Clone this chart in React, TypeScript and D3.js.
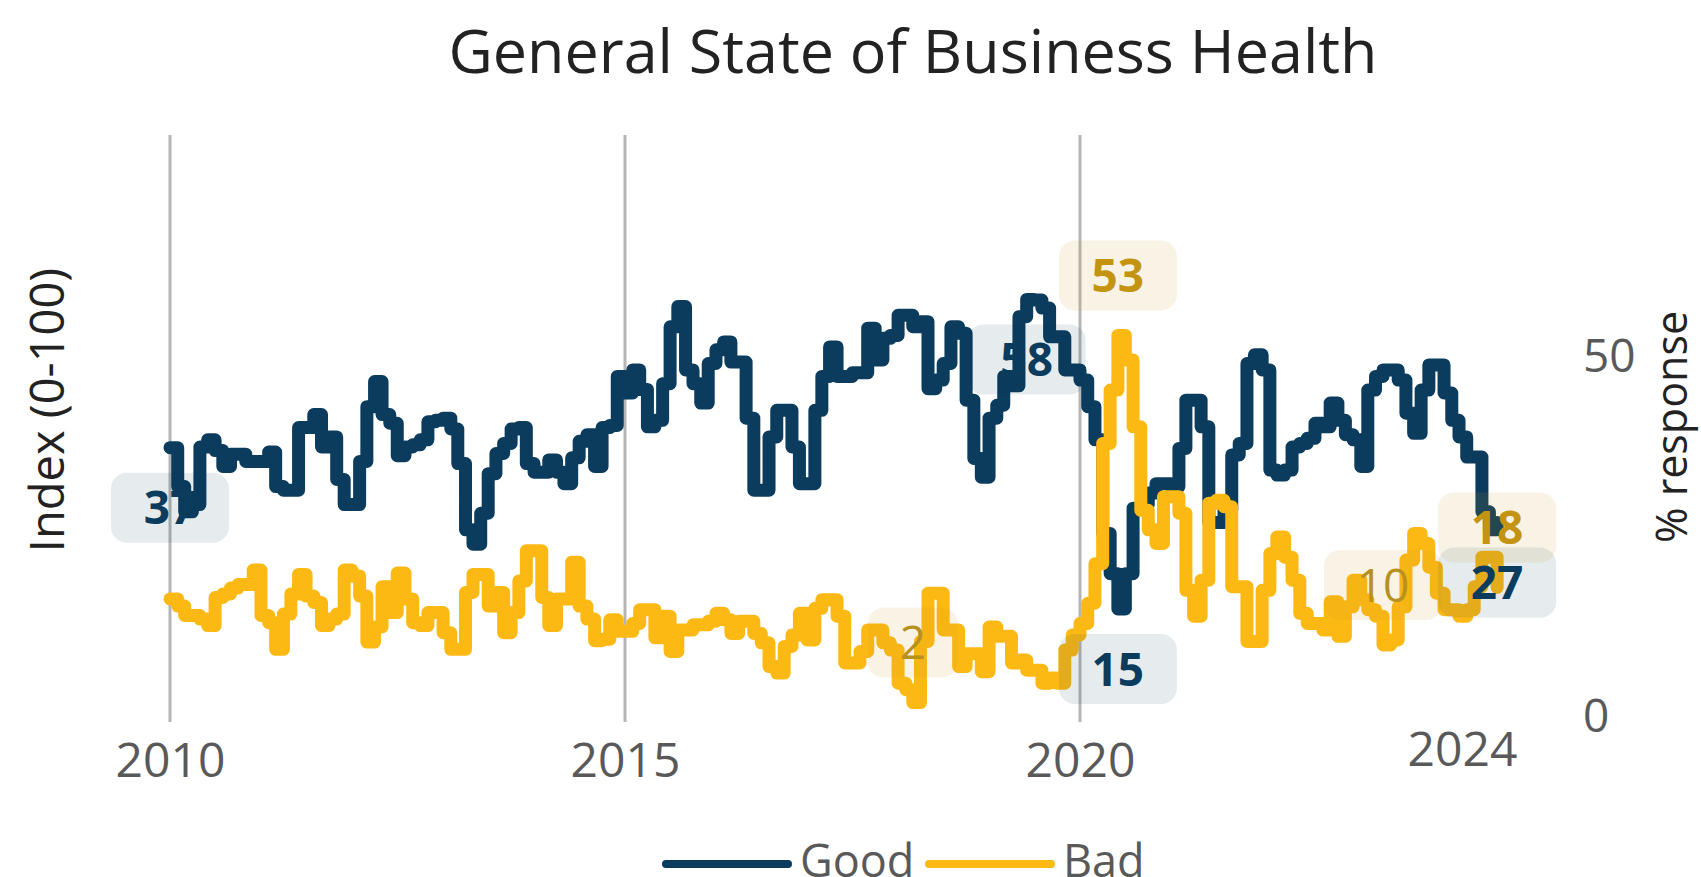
import React, { useEffect, useRef } from "react";
import * as d3 from "d3";

const W = 1701;
const H = 877;

// monthly values, first month Jan 2010
const startMonth = new Date(2010, 0, 1);

const goodValues = [
  37.4, 32, 28.5, 29.5, 37.5, 38.5, 37, 34.8, 36.5, 36.5,
  35.5, 35.5, 35.5, 36.8, 32, 31.5, 31.5, 40.2, 40.2, 42,
  37.5, 38.9, 33, 29.5, 29.5, 35.5, 43.1, 46.6, 42, 40.8,
  36.3, 37.5, 37.8, 38.5, 41, 41.2, 41.5, 40, 35.2, 26,
  24, 28.3, 33.8, 36.6, 38, 40, 40.2, 35.2, 34, 34,
  35.7, 34, 32.4, 36, 38.3, 39.2, 34.8, 40.2, 40.5, 47.3,
  45, 48.2, 45.5, 40.3, 41.2, 46.3, 54.2, 57, 48.2, 46.3,
  43.6, 49.1, 51, 52.1, 49.3, 49.3, 41.5, 31.5, 31.5, 38.9,
  42.6, 42.6, 37.5, 32.4, 32.4, 42.6, 47.3, 51.4, 47.3, 47.3,
  47.8, 47.8, 54, 49.6, 52.6, 53, 55.8, 55.8, 54.2, 54.9,
  45.6, 46.8, 49.1, 54.2, 53.3, 44, 35.9, 33.3, 41.5, 43.3,
  47.3, 46, 55.6, 58, 57.9, 56.8, 52.8, 52.8, 48.2, 48.2,
  46.8, 43.1, 38.5, 25.5, 19.9, 15, 19.9, 29, 29.5, 31.1,
  32.4, 32.4, 32, 37.3, 44, 44, 40.3, 27, 27, 28.8,
  36.4, 38, 49.1, 50.3, 48.2, 34.3, 33.6, 34.3, 37.5, 38,
  38.7, 40.8, 40.3, 43.6, 41.2, 39.2, 38.5, 34.8, 45.4, 47.3,
  48.2, 48.2, 46.8, 42.2, 39.4, 45.4, 48.9, 48.9, 45, 41.2,
  38.9, 36.1, 36.1, 28.5, 26, 27
];

const badValues = [
  16.4, 15.4, 14.1, 14.1, 13.6, 12.7, 16.6, 17.1, 17.9, 18.4,
  18.4, 20.4, 14.1, 13.1, 9.4, 14.3, 17.1, 19.8, 16.8, 15.9,
  12.7, 13.6, 14.3, 20.4, 19.6, 16.8, 10.4, 12.5, 18.1, 14.5,
  20, 16.4, 13.1, 12.7, 14.5, 14.5, 11.7, 9.4, 9.4, 17.3,
  19.8, 19.8, 15.4, 17.3, 11.7, 14.5, 18.9, 23.1, 23.1, 16.6,
  12.7, 16.4, 16.4, 21.5, 15.4, 13.6, 10.6, 10.8, 13.5, 11.9,
  11.9, 13, 14.9, 14.9, 11, 14, 9.1, 12.1, 12.1, 12.8,
  12.8, 13.3, 14.4, 13.5, 11.6, 13.3, 13.3, 11.6, 10.3, 7,
  6.1, 9.8, 11.4, 14.4, 10.7, 15.1, 16.3, 16.3, 14, 7.5,
  7.5, 9.1, 12.1, 12.1, 10.3, 9.3, 4.7, 3.8, 2, 10.5,
  17.2, 17.2, 12.1, 12.1, 7, 8.8, 8.8, 6.3, 12.5, 11.2,
  11.2, 7.5, 7.9, 6.5, 6.5, 4.7, 5.4, 4.7, 9.3, 11.4,
  13, 15.8, 21.3, 38, 45.4, 53, 49.6, 40.3, 28.7, 26,
  24.1, 30.6, 30.6, 28.3, 17.6, 14, 19, 29.7, 30.1, 29.2,
  18.1, 18.1, 10.5, 10.5, 17.6, 22.7, 25, 22.2, 19, 14.4,
  13, 13, 12.1, 16, 11.2, 15.3, 19, 16.3, 14.9, 14,
  10, 10.7, 15.3, 21.8, 25.5, 24.1, 20.8, 17.2, 14.9, 14.9,
  14, 14.9, 18.1, 22.2, 22.2, 18
];

const seriesNames = ["Good", "Bad"];
const seriesColors = ["#0b3c5d", "#fdb913"];
const xTickYears = [2010, 2015, 2020];
const extraTickLabel = "2024";
const rightTicks = [0, 50];

// which months carry a value label
const goodLabelIdx = [0, 113, 125, 175];
const badLabelIdx = [98, 125, 160, 175];
const badQuietIdx = [98, 160];

const font = "'Open Sans', sans-serif";

export default function App() {
  const ref = useRef<SVGSVGElement>(null);

  useEffect(() => {
    const svg = d3.select(ref.current);
    svg.selectAll("*").remove();

    const months = goodValues.map((_, i) => d3.timeMonth.offset(startMonth, i));

    const x = d3.scaleTime()
      .domain([new Date(2010, 0, 1), new Date(2020, 0, 1)])
      .range([170, 1080]);
    const y = d3.scaleLinear().domain([0, 50]).range([717, 357]);

    svg.append("rect").attr("width", W).attr("height", H).attr("fill", "#fff");

    // title
    svg.append("text")
      .attr("x", 913).attr("y", 73)
      .attr("text-anchor", "middle")
      .attr("font-family", font).attr("font-size", 61)
      .attr("fill", "#222")
      .text("General State of Business Health");

    // vertical grid at the year ticks
    svg.append("g").selectAll("line")
      .data(xTickYears)
      .enter().append("line")
      .attr("x1", d => x(new Date(d, 0, 1))).attr("x2", d => x(new Date(d, 0, 1)))
      .attr("y1", 135).attr("y2", 722)
      .attr("stroke", "#b5b5b5").attr("stroke-width", 3);

    // bottom axis labels
    const xAxis = d3.axisBottom(x)
      .tickValues(xTickYears.map(d => new Date(d, 0, 1)))
      .tickFormat(d3.timeFormat("%Y") as any)
      .tickSize(0).tickPadding(8);
    const gx = svg.append("g").attr("transform", "translate(0,735)").call(xAxis);
    gx.select(".domain").remove();
    gx.selectAll("text").attr("font-family", font).attr("font-size", 48).attr("fill", "#595959");

    svg.append("text")
      .attr("x", x(new Date(2024, 2, 15))).attr("y", 766)
      .attr("text-anchor", "middle")
      .attr("font-family", font).attr("font-size", 48).attr("fill", "#595959")
      .text(extraTickLabel);

    // right axis
    const yAxis = d3.axisRight(y).tickValues(rightTicks).tickSize(0).tickPadding(8);
    const gy = svg.append("g").attr("transform", "translate(1575,0)").call(yAxis);
    gy.select(".domain").remove();
    gy.selectAll("text").attr("font-family", font).attr("font-size", 46).attr("fill", "#595959");

    // axis titles
    svg.append("text")
      .attr("transform", "translate(64,410) rotate(-90)")
      .attr("text-anchor", "middle")
      .attr("font-family", font).attr("font-size", 47).attr("fill", "#222")
      .text("Index (0-100)");
    svg.append("text")
      .attr("transform", "translate(1687,427) rotate(-90)")
      .attr("text-anchor", "middle")
      .attr("font-family", font).attr("font-size", 43).attr("fill", "#222")
      .text("% response");

    // lines
    const line = d3.line<number>()
      .x((d, i) => x(months[i]))
      .y(d => y(d))
      .curve(d3.curveStepAfter);

    [goodValues, badValues].forEach((vals, k) => {
      svg.append("path")
        .datum(vals)
        .attr("d", line)
        .attr("fill", "none")
        .attr("stroke", seriesColors[k])
        .attr("stroke-width", 13)
        .attr("stroke-linejoin", "round")
        .attr("stroke-linecap", "round");
    });

    // value labels
    const labels = [
      ...goodLabelIdx.map(i => ({ i, v: goodValues[i], good: true })),
      ...badLabelIdx.map(i => ({ i, v: badValues[i], good: false })),
    ];
    const lg = svg.append("g");
    labels.forEach(d => {
      const txt = String(Math.round(d.v));
      const bw = 62 + 28 * txt.length;
      const cx = x(months[d.i]);
      const cy = y(d.v) + (d.good ? 60 : -60);
      lg.append("rect")
        .attr("x", cx - bw / 2).attr("y", cy - 35)
        .attr("width", bw).attr("height", 70)
        .attr("rx", 16)
        .attr("fill", d.good ? "rgba(11,60,93,0.1)" : "rgba(200,160,40,0.12)");
    });
    labels.forEach(d => {
      const quiet = !d.good && badQuietIdx.includes(d.i);
      lg.append("text")
        .attr("x", x(months[d.i]))
        .attr("y", y(d.v) + (d.good ? 60 : -60))
        .attr("dy", "0.36em")
        .attr("text-anchor", "middle")
        .attr("font-family", font).attr("font-size", 46)
        .attr("font-weight", quiet ? 400 : 700)
        .attr("fill", d.good ? "#0b3c5d" : quiet ? "#b8901c" : "#c4930f")
        .text(String(Math.round(d.v)));
    });

    // legend
    const legendX = [662, 925];
    seriesNames.forEach((name, k) => {
      svg.append("line")
        .attr("x1", legendX[k] + 4).attr("x2", legendX[k] + 126)
        .attr("y1", 864).attr("y2", 864)
        .attr("stroke", seriesColors[k]).attr("stroke-width", 8)
        .attr("stroke-linecap", "round");
      svg.append("text")
        .attr("x", legendX[k] + 138).attr("y", 877)
        .attr("font-family", font).attr("font-size", 45).attr("fill", "#595959")
        .text(name);
    });
  }, []);

  return (
    <svg
      ref={ref}
      width={W}
      height={H}
      style={{ position: "absolute", left: 0, top: 0, display: "block" }}
    />
  );
}
